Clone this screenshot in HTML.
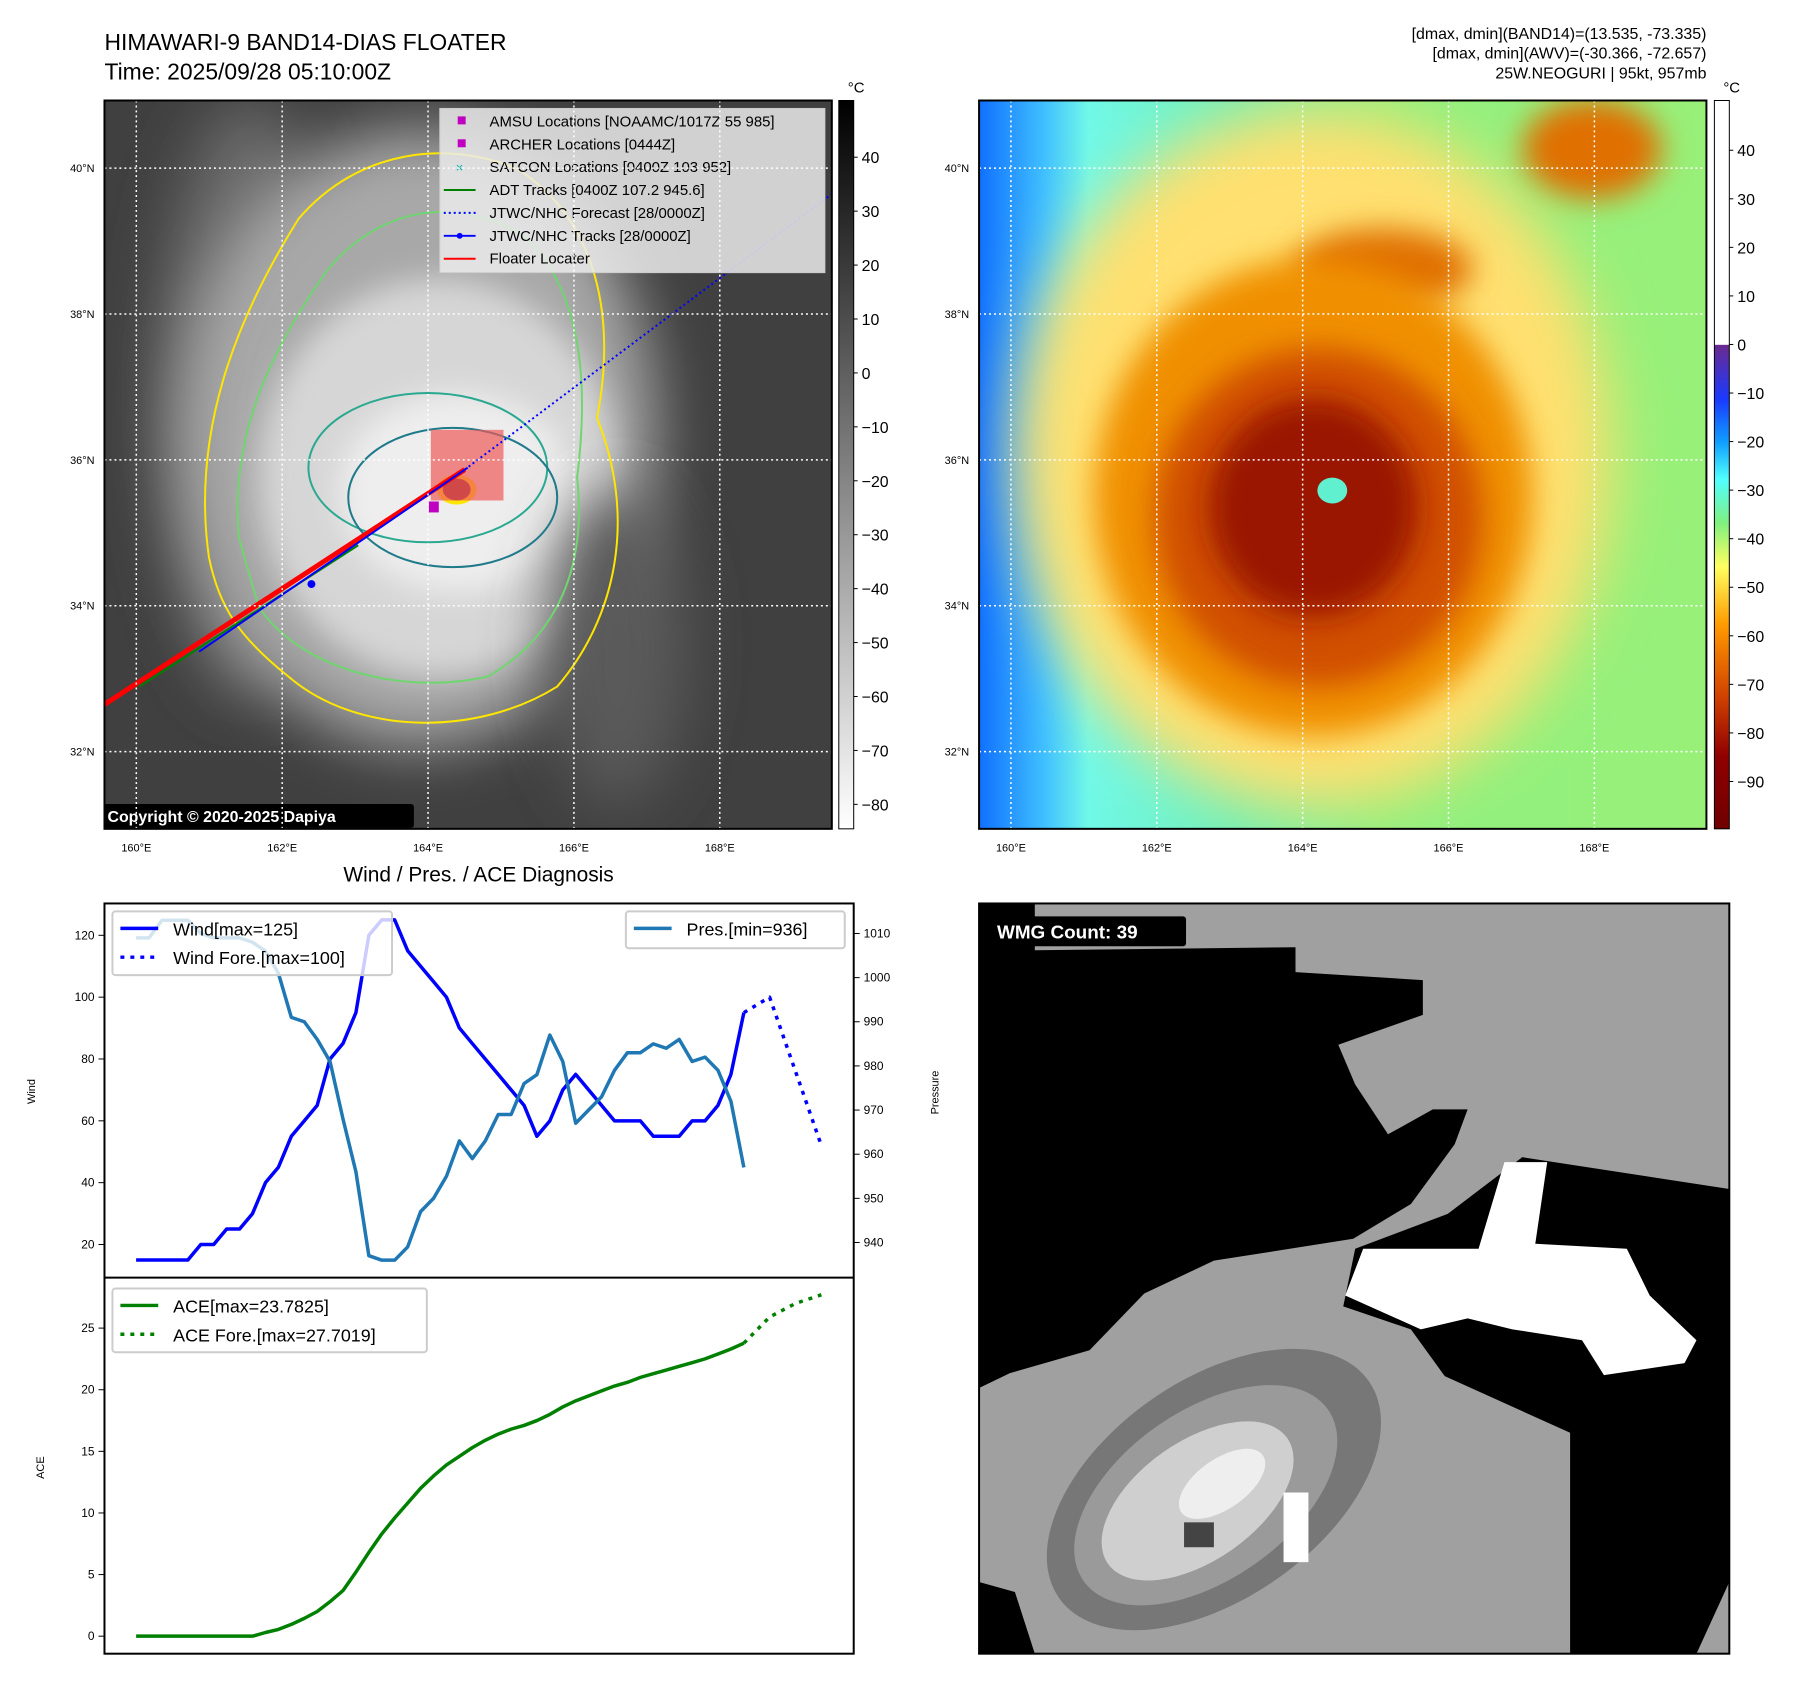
<!DOCTYPE html>
<html><head><meta charset="utf-8"><style>
html,body{margin:0;padding:0;background:#fff}
svg{display:block;font-family:"Liberation Sans",sans-serif}
</style></head><body>
<svg id="root" width="1797" height="1690" viewBox="0 0 1797 1690" xmlns="http://www.w3.org/2000/svg">
<defs>
<filter id="b30" x="-50%" y="-50%" width="200%" height="200%"><feGaussianBlur stdDeviation="30"/></filter>
<filter id="b15" x="-50%" y="-50%" width="200%" height="200%"><feGaussianBlur stdDeviation="15"/></filter>
<filter id="b6" x="-50%" y="-50%" width="200%" height="200%"><feGaussianBlur stdDeviation="6"/></filter>
<clipPath id="cl"><rect x="105" y="101" width="731" height="732"/></clipPath>
<clipPath id="cr"><rect x="984" y="101" width="731" height="732"/></clipPath>
<clipPath id="cw"><rect x="984" y="908" width="754" height="754"/></clipPath>
<linearGradient id="gcb" x1="0" y1="1" x2="0" y2="0"><stop offset="0" stop-color="#fff"/><stop offset="1" stop-color="#000"/></linearGradient>
<linearGradient id="rcb" x1="0" y1="0" x2="0" y2="1">
<stop offset="0" stop-color="#fff"/><stop offset="0.335" stop-color="#fff"/><stop offset="0.336" stop-color="#6a2a90"/>
<stop offset="0.41" stop-color="#1a3aff"/><stop offset="0.47" stop-color="#10a0ff"/><stop offset="0.52" stop-color="#50ffff"/>
<stop offset="0.58" stop-color="#80f080"/><stop offset="0.64" stop-color="#ffff60"/><stop offset="0.72" stop-color="#ff9a00"/>
<stop offset="0.82" stop-color="#d04000"/><stop offset="0.9" stop-color="#900000"/><stop offset="1" stop-color="#700000"/></linearGradient>
<linearGradient id="rbg" x1="0" y1="0" x2="1" y2="0">
<stop offset="0" stop-color="#1070ff"/><stop offset="0.09" stop-color="#40c0ff"/><stop offset="0.15" stop-color="#70f8e8"/>
<stop offset="0.35" stop-color="#70f0b8"/><stop offset="0.55" stop-color="#90f080"/><stop offset="1" stop-color="#98f078"/></linearGradient>
</defs>
<g transform="scale(0.995)">
<text x="105" y="50" font-size="23">HIMAWARI-9 BAND14-DIAS FLOATER</text>
<text x="105" y="80" font-size="23">Time: 2025/09/28 05:10:00Z</text>
<g font-size="16" text-anchor="end">
<text x="1715" y="39">[dmax, dmin](BAND14)=(13.535, -73.335)</text>
<text x="1715" y="59">[dmax, dmin](AWV)=(-30.366, -72.657)</text>
<text x="1715" y="79">25W.NEOGURI | 95kt, 957mb</text>
</g>

<!-- LEFT MAP -->
<g clip-path="url(#cl)">
<rect x="105" y="101" width="731" height="732" fill="#404040"/>
<ellipse cx="250" cy="400" rx="90" ry="300" fill="#6a6a6a" filter="url(#b30)"/>
<ellipse cx="420" cy="440" rx="240" ry="310" fill="#a8a8a8" filter="url(#b30)"/>
<ellipse cx="440" cy="480" rx="180" ry="200" fill="#d6d6d6" filter="url(#b15)"/>
<ellipse cx="460" cy="495" rx="120" ry="100" fill="#eeeeee" filter="url(#b15)"/>
<ellipse cx="620" cy="650" rx="70" ry="160" fill="#5a5a5a" filter="url(#b30)"/>
<path d="M210,560 C190,420 250,300 300,220 C360,150 450,140 520,170 C600,220 620,320 600,420 C640,520 620,620 560,690 C480,740 360,740 290,680 C240,640 220,610 210,560Z" fill="none" stroke="#ffe600" stroke-width="2"/>
<path d="M240,540 C230,430 280,340 330,270 C390,200 470,200 530,240 C590,300 590,400 580,480 C590,570 560,640 490,680 C400,700 300,670 260,610Z" fill="none" stroke="#6fd66f" stroke-width="2"/>
<ellipse cx="430" cy="470" rx="120" ry="75" fill="none" stroke="#2aa890" stroke-width="2"/>
<ellipse cx="455" cy="500" rx="105" ry="70" fill="none" stroke="#1f7a8a" stroke-width="2"/>
<ellipse cx="459" cy="492" rx="20" ry="15" fill="#ffe600"/>
<ellipse cx="459" cy="492" rx="14" ry="11" fill="#8a2020"/>
<rect x="433" y="432" width="73" height="71" fill="rgba(240,90,90,0.7)"/>
<line x1="105" y1="708" x2="467" y2="472" stroke="#ff0000" stroke-width="5"/>
<line x1="140" y1="690" x2="360" y2="548" stroke="#008000" stroke-width="2"/>
<line x1="200" y1="655" x2="470" y2="470" stroke="#0000ff" stroke-width="2"/>
<circle cx="313" cy="587" r="4" fill="#0000ff"/>
<line x1="467" y1="472" x2="836" y2="195" stroke="#0000ff" stroke-width="2" stroke-dasharray="2,3"/>
<rect x="431" y="504" width="10" height="11" fill="#c000c0"/>
<rect x="442" y="109" width="387" height="165" fill="rgba(235,235,235,0.85)" stroke="#ccc"/>
<g font-size="15">
<rect x="460" y="117" width="8" height="8" fill="#c000c0"/><text x="492" y="127">AMSU Locations [NOAAMC/1017Z 55 985]</text>
<rect x="460" y="140" width="8" height="8" fill="#c000c0"/><text x="492" y="150">ARCHER Locations [0444Z]</text>
<text x="458" y="173" fill="#00b0b0" font-size="13">×</text><text x="492" y="173">SATCON Locations [0400Z 103 952]</text>
<line x1="446" y1="191" x2="478" y2="191" stroke="#008000" stroke-width="2"/><text x="492" y="196">ADT Tracks [0400Z 107.2 945.6]</text>
<line x1="446" y1="214" x2="478" y2="214" stroke="#00f" stroke-width="2" stroke-dasharray="2,3"/><text x="492" y="219">JTWC/NHC Forecast [28/0000Z]</text>
<line x1="446" y1="237" x2="478" y2="237" stroke="#00f" stroke-width="2"/><circle cx="462" cy="237" r="3" fill="#00f"/><text x="492" y="242">JTWC/NHC Tracks [28/0000Z]</text>
<line x1="446" y1="260" x2="478" y2="260" stroke="#f00" stroke-width="2"/><text x="492" y="265">Floater Locater</text>
</g>
<rect x="103" y="808" width="313" height="24" rx="3" fill="#000"/>
<text x="108" y="826" font-size="16" font-weight="bold" fill="#fff">Copyright © 2020-2025 Dapiya</text>
</g>
<g id="lgrid"></g>
<rect x="105" y="101" width="731" height="732" fill="none" stroke="#000" stroke-width="2"/>
<rect x="843" y="101" width="15" height="732" fill="url(#gcb)" stroke="#000"/>
<text x="852" y="93" font-size="15">°C</text>
<g id="lcbt" font-size="16"></g>

<!-- RIGHT MAP -->
<g clip-path="url(#cr)">
<rect x="984" y="101" width="731" height="732" fill="url(#rbg)"/>
<ellipse cx="1320" cy="460" rx="300" ry="350" fill="#ffe070" filter="url(#b30)"/>
<ellipse cx="1600" cy="150" rx="70" ry="50" fill="#e07000" filter="url(#b15)"/>
<ellipse cx="1390" cy="270" rx="90" ry="40" fill="#e07000" filter="url(#b15)"/>
<ellipse cx="1320" cy="500" rx="220" ry="240" fill="#f09000" filter="url(#b15)"/>
<ellipse cx="1325" cy="520" rx="165" ry="170" fill="#d05000" filter="url(#b15)"/>
<ellipse cx="1320" cy="510" rx="105" ry="110" fill="#9a1800" filter="url(#b15)"/>
<ellipse cx="1339" cy="493" rx="15" ry="13" fill="#60f0d0"/>
</g>
<g id="rgrid"></g>
<rect x="984" y="101" width="731" height="732" fill="none" stroke="#000" stroke-width="2"/>
<rect x="1723" y="101" width="15" height="732" fill="url(#rcb)" stroke="#000"/>
<text x="1732" y="93" font-size="15">°C</text>
<g id="rcbt" font-size="16"></g>

<!-- CHART -->
<text x="481" y="886" font-size="21" text-anchor="middle">Wind / Pres. / ACE Diagnosis</text>
<g id="chart"></g>

<!-- WMG -->
<g clip-path="url(#cw)">
<rect x="984" y="908" width="754" height="754" fill="#a0a0a0"/>
<path d="M984,908 L1040,908 L1040,955 L1302,952 L1302,977 L1430,985 L1430,1020 L1345,1050 L1362,1090 L1395,1140 L1440,1115 L1475,1115 L1462,1150 L1418,1210 L1360,1245 L1220,1267 L1150,1300 L1095,1357 L1015,1380 L984,1395Z" fill="#000"/>
<path d="M1530,1163 L1738,1195 L1738,1590 L1705,1662 L1578,1662 L1578,1440 L1452,1383 L1418,1336 L1350,1313 L1362,1255 L1455,1220Z" fill="#000"/>
<path d="M984,1590 L1020,1600 L1040,1662 L984,1662Z" fill="#000"/>
<path d="M1512,1168 L1555,1168 L1543,1250 L1635,1255 L1658,1302 L1705,1347 L1693,1370 L1612,1382 L1590,1347 L1520,1336 L1475,1325 L1428,1336 L1352,1302 L1370,1255 L1486,1255Z" fill="#fff"/>
<g transform="rotate(-35 1220 1497)">
<ellipse cx="1220" cy="1497" rx="190" ry="110" fill="#777"/>
<ellipse cx="1210" cy="1497" rx="150" ry="85" fill="#9a9a9a"/>
<ellipse cx="1200" cy="1497" rx="110" ry="60" fill="#cfcfcf"/>
<ellipse cx="1230" cy="1497" rx="50" ry="25" fill="#eeeeee"/>
</g>
<rect x="1290" y="1500" width="25" height="70" fill="#fff"/>
<rect x="1190" y="1530" width="30" height="25" fill="#444"/>
</g>
<rect x="984" y="908" width="754" height="754" fill="none" stroke="#000" stroke-width="2"/>
<rect x="993" y="921" width="199" height="30" rx="3" fill="#000"/>
<text x="1002" y="943" font-size="19" font-weight="bold" fill="#fff">WMG Count: 39</text>
</g>
</svg>
<script>
var NS="http://www.w3.org/2000/svg";
function mk(p,t,a,txt){var e=document.createElementNS(NS,t);for(var k in a)e.setAttribute(k,a[k]);if(txt!==undefined)e.textContent=txt;p.appendChild(e);return e;}
var lonTicks=[160,162,164,166,168];
var latTicks=[40,38,36,34,32];
function lonX(v,x0){return x0+32+(v-160)*73.3;}
function latY(v){return 169+(40-v)*73.3;}
[["lgrid",105],["rgrid",984]].forEach(function(g){
 var G=document.getElementById(g[0]);
 lonTicks.forEach(function(v){var x=lonX(v,g[1]);
  var l=mk(G,"line",{x1:x,y1:101,x2:x,y2:833,stroke:"#fff","stroke-dasharray":"2,3","stroke-width":1.5});
  
  
  var t=mk(G,"text",{x:x,y:856,"font-size":11,"text-anchor":"middle"},v+"°E");
  
  });
 latTicks.forEach(function(v){var y=latY(v);
  var l=mk(G,"line",{x1:g[1],y1:y,x2:g[1]+731,y2:y,stroke:"#fff","stroke-dasharray":"2,3","stroke-width":1.5});
  
  
  var t=mk(G,"text",{x:g[1]-10,y:y+4,"font-size":11,"text-anchor":"end"},v+"°N");
  
  });
});
var lcbLabels=[40,30,20,10,0,-10,-20,-30,-40,-50,-60,-70,-80];
var rcbLabels=[40,30,20,10,0,-10,-20,-30,-40,-50,-60,-70,-80,-90];
lcbLabels.forEach(function(v){var y=158+(40-v)*5.42;var G=document.getElementById("lcbt");
 mk(G,"line",{x1:858,y1:y,x2:862,y2:y,stroke:"#000"});
 var t=mk(G,"text",{x:866,y:y+6},(v<0?"\u2212"+(-v):v));
 
 });
rcbLabels.forEach(function(v){var y=151+(40-v)*4.88;var G=document.getElementById("rcbt");
 mk(G,"line",{x1:1738,y1:y,x2:1742,y2:y,stroke:"#000"});
 var t=mk(G,"text",{x:1746,y:y+6},(v<0?"\u2212"+(-v):v));
 
 });
</script>
<script>
var windVals=[15,15,15,15,15,20,20,25,25,30,40,45,55,60,65,80,85,95,120,125,125,115,110,105,100,90,85,80,75,70,65,55,60,70,75,70,65,60,60,60,55,55,55,60,60,65,75,95];
var windFcIdx=[47,49,53];
var windFcVals=[95,100,52];
var presVals=[1009,1009,1013,1013,1013,1010,1009,1009,1009,1008,1006,1001,991,990,986,981,968,956,937,936,936,939,947,950,955,963,959,963,969,969,976,978,987,981,967,970,973,979,983,983,985,984,986,981,982,979,972,957];
var aceVals=[0,0,0,0,0,0,0,0,0,0,0.3,0.55,0.95,1.45,2.0,2.8,3.7,5.2,6.8,8.3,9.6,10.8,12.0,13.0,13.9,14.6,15.3,15.9,16.4,16.8,17.1,17.5,18.0,18.6,19.1,19.5,19.9,20.3,20.6,21.0,21.3,21.6,21.9,22.2,22.5,22.9,23.3,23.78];
var aceFcIdx=[47,49,51,53];
var aceFcVals=[23.78,25.9,27.0,27.7];
var windTicks=[20,40,60,80,100,120];
var presTicks=[940,950,960,970,980,990,1000,1010];
var aceTicks=[0,5,10,15,20,25];

var C=document.getElementById("chart");
var X0=105,X1=858,XMIN=-2.45,XMAX=55.5;
function sx(i){return X0+(i-XMIN)/(XMAX-XMIN)*(X1-X0);}
function sw(v){return 908+(130.3-v)/(130.3-9.3)*376;}
function sp(v){return 908+(1016.8-v)/(1016.8-932.05)*376;}
function sa(v){return 1284+(29.1-v)/(29.1+1.42)*378;}
function pts(xs,ys,fy){return ys.map(function(v,k){return sx(xs?xs[k]:k).toFixed(1)+","+fy(v).toFixed(1);}).join(" ");}
function line(p,col,dash,name){var e=mk(C,"polyline",{points:p,fill:"none",stroke:col,"stroke-width":3.5,"stroke-linejoin":"round"});if(dash)e.setAttribute("stroke-dasharray",dash);
 
 return e;}
line(pts(null,windVals,sw),"#0000ff",null,"wind-line");
line(pts(windFcIdx,windFcVals,sw),"#0000ff","4,6","wind-forecast-line");
line(pts(null,presVals,sp),"#1f77b4",null,"pressure-line");
line(pts(null,aceVals,sa),"#008000",null,"ace-line");
line(pts(aceFcIdx,aceFcVals,sa),"#008000","4,6","ace-forecast-line");
mk(C,"rect",{x:105,y:908,width:753,height:754,fill:"none",stroke:"#000","stroke-width":2});
mk(C,"line",{x1:105,y1:1284,x2:858,y2:1284,stroke:"#000","stroke-width":2});
windTicks.forEach(function(v){var y=sw(v);mk(C,"line",{x1:99,y1:y,x2:105,y2:y,stroke:"#000"});
 var t=mk(C,"text",{x:95,y:y+4,"font-size":12,"text-anchor":"end"},v);
 
 });
presTicks.forEach(function(v){var y=sp(v);mk(C,"line",{x1:858,y1:y,x2:864,y2:y,stroke:"#000"});
 var t=mk(C,"text",{x:868,y:y+4,"font-size":12},v);
 
 });
aceTicks.forEach(function(v){var y=sa(v);mk(C,"line",{x1:99,y1:y,x2:105,y2:y,stroke:"#000"});
 var t=mk(C,"text",{x:95,y:y+4,"font-size":12,"text-anchor":"end"},v);
 
 });
var t1=mk(C,"text",{transform:"translate(35,1097) rotate(-90)","font-size":11,"text-anchor":"middle"},"Wind");


var t2=mk(C,"text",{transform:"translate(943,1098) rotate(-90)","font-size":11,"text-anchor":"middle"},"Pressure");


var t3=mk(C,"text",{transform:"translate(44,1475) rotate(-90)","font-size":11,"text-anchor":"middle"},"ACE");


function legend(x,y,w,h,rows,name){var g=mk(C,"g",{});
 
 
 mk(g,"rect",{x:x,y:y,width:w,height:h,rx:3,fill:"rgba(255,255,255,0.8)",stroke:"#ccc","stroke-width":2});
 rows.forEach(function(r,k){var yy=y+17+k*29;var l=mk(g,"line",{x1:x+8,y1:yy,x2:x+46,y2:yy,stroke:r[1],"stroke-width":3.5});if(r[2])l.setAttribute("stroke-dasharray",r[2]);
  mk(g,"text",{x:x+61,y:yy+7,"font-size":18},r[0]);});}
legend(113,916,281,64,[["Wind[max=125]","#0000ff"],["Wind Fore.[max=100]","#0000ff","4,6"]],"wind-legend");
legend(629,916,220,37,[["Pres.[min=936]","#1f77b4"]],"pressure-legend");
legend(113,1295,316,64,[["ACE[max=23.7825]","#008000"],["ACE Fore.[max=27.7019]","#008000","4,6"]],"ace-legend");
</script>
</body></html>
